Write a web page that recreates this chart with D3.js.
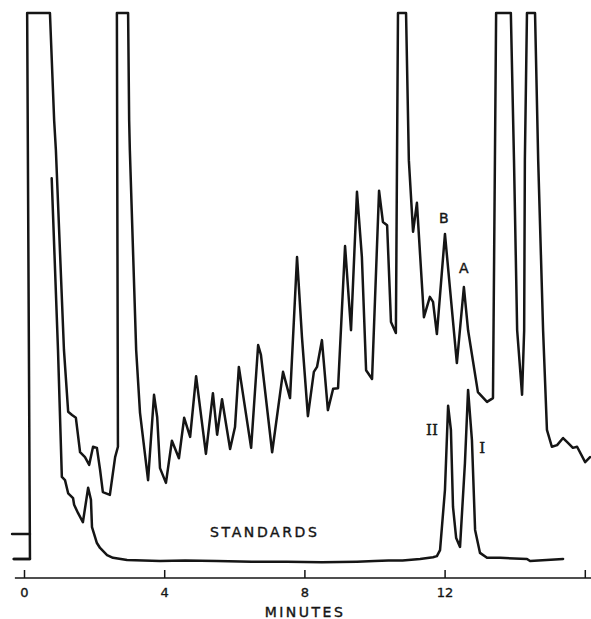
<!DOCTYPE html>
<html>
<head>
<meta charset="utf-8">
<script src="https://cdn.jsdelivr.net/npm/d3@7"></script>
<style>
  body { margin: 0; background: #fff; }
  svg { display: block; }
  .trace { fill: none; stroke: #151515; stroke-width: 2.5; stroke-linejoin: round; stroke-linecap: round; }
  .axis text { font-family: "DejaVu Sans", sans-serif; font-size: 13px; fill: #151515; stroke: #151515; stroke-width: 0.35; }
  .axis line { stroke: #151515; stroke-width: 1.5; }
  .lbl { font-family: "DejaVu Sans", sans-serif; fill: #151515; stroke: #151515; stroke-width: 0.4; }
  .roman { font-family: "DejaVu Serif", serif; fill: #151515; stroke: #151515; stroke-width: 0.4; }
</style>
</head>
<body>
<svg width="591" height="619"></svg>
<script>
// sample trace: time (min), detector response (0-100, 100 = pen limit)
var sampleTime = [-0.29, 0.17, 0.09, 0.74, 0.86, 0.91, 1.14, 1.26, 1.37, 1.48, 1.60, 1.74, 1.86, 1.97, 2.08, 2.17, 2.25, 2.45, 2.60, 2.68,
  2.65, 2.97, 3.00, 3.02, 3.20, 3.31, 3.54, 3.71, 3.80, 3.88, 4.05, 4.22, 4.42, 4.57, 4.74, 4.91, 5.19, 5.39, 5.51, 5.65,
  5.88, 6.02, 6.13, 6.48, 6.68, 6.76, 7.08, 7.39, 7.59, 7.79, 7.93, 8.10, 8.27, 8.36, 8.50, 8.67, 8.82, 8.96, 9.16, 9.33,
  9.50, 9.64, 9.76, 9.93, 10.13, 10.24, 10.36, 10.47, 10.61, 10.67, 10.90, 10.98, 11.10, 11.21, 11.41, 11.58, 11.67, 11.78, 12.01, 12.35,
  12.55, 12.67, 12.95, 13.21, 13.38, 13.47, 13.89, 13.98, 14.07, 14.21, 14.27, 14.29, 14.35, 14.58, 14.67, 14.81, 14.92, 15.06, 15.21, 15.38,
  15.52, 15.66, 15.78, 16.01, 16.15];
var sampleResp = [0.2, 0.2, 100, 100, 80.4, 74.9, 38.4, 27.1, 26.5, 26.0, 19.7, 18.8, 17.4, 20.7, 20.5, 16.5, 12.4, 11.9, 18.8, 20.7,
  100, 100, 80.4, 74.9, 38.4, 26.9, 14.6, 30.2, 26.1, 16.8, 14.1, 21.8, 18.6, 26.0, 22.5, 33.6, 19.4, 30.5, 22.9, 29.4,
  20.3, 24.3, 35.3, 20.5, 39.3, 37.5, 19.7, 34.4, 29.6, 55.4, 40.8, 26.3, 34.4, 35.3, 40.2, 27.4, 31.3, 31.4, 57.4, 42.0,
  67.3, 55.4, 34.7, 33.1, 67.5, 61.8, 61.2, 43.5, 41.5, 100, 100, 73.1, 60.0, 65.3, 44.4, 48.1, 47.2, 41.3, 59.6, 36.0,
  49.9, 42.0, 30.7, 28.9, 29.6, 100, 100, 73.1, 42.0, 30.2, 42.0, 73.1, 100, 100, 73.1, 42.0, 23.8, 20.7, 21.0, 22.3,
  21.4, 20.5, 20.7, 17.9, 18.8];

// standards trace
var stdTime = [0.79, 0.97, 1.08, 1.17, 1.26, 1.40, 1.43, 1.54, 1.68, 1.83, 1.91, 1.94, 2.08, 2.17, 2.37, 2.54, 2.94, 3.88, 4.6, 5.5,
  6.5, 7.5, 8.5, 9.5, 10.0, 10.4, 10.8, 11.3, 11.67, 11.78, 11.87, 12.01, 12.10, 12.18, 12.24, 12.33, 12.44, 12.58, 12.67, 12.78,
  12.87, 13.01, 13.21, 13.58, 14.35, 14.44, 15.38];
var stdResp = [69.8, 38.4, 15.2, 14.6, 12.2, 11.3, 10.1, 8.6, 6.9, 13.2, 11.0, 6.0, 3.1, 2.2, 0.9, 0.4, 0, -0.2, -0.1, -0.2,
  -0.3, -0.3, -0.4, -0.3, -0.2, -0.1, -0.1, 0.2, 0.5, 0.7, 1.8, 12.8, 28.2, 23.8, 9.7, 4.0, 2.4, 17.7, 31.1, 21.9,
  5.5, 1.3, 0.4, 0.4, 0.2, -0.2, 0.2];

// zero marks at the left edge
var zeroLevels = [4.75, 0.18];
var zeroStart = [-0.34, -0.29];
var zeroEnd = [0.17, 0.17];

var tickValues = [0, 4, 8, 12, 16];
var tickLabels = ["0", "4", "8", "12", ""];

var peakNames = ["B", "A"];
var peakTime = [11.98, 12.55];
var peakResp = [62.5, 53.4];

var stdNames = ["II", "I"];
var stdNameTime = [11.64, 13.07];
var stdNameResp = [23.8, 20.5];

var svg = d3.select("svg");
svg.append("rect").attr("width", 591).attr("height", 619).attr("fill", "#fff");

var x = d3.scaleLinear().domain([0, 16]).range([24, 584.8]);
var y = d3.scaleLinear().domain([0, 100]).range([560, 13]);

var line = d3.line()
  .x(function(d) { return x(d[0]); })
  .y(function(d) { return y(d[1]); });

svg.append("path")
  .attr("class", "trace")
  .attr("d", line(d3.zip(sampleTime, sampleResp)));

svg.append("path")
  .attr("class", "trace")
  .attr("d", line(d3.zip(stdTime, stdResp)));

svg.selectAll(".zero")
  .data(zeroLevels)
  .enter()
  .append("line")
    .attr("class", "zero trace")
    .attr("x1", function(d, i) { return x(zeroStart[i]); })
    .attr("x2", function(d, i) { return x(zeroEnd[i]); })
    .attr("y1", function(d) { return y(d); })
    .attr("y2", function(d) { return y(d); });

// time axis, ticks pointing up
var axis = svg.append("g")
  .attr("class", "axis")
  .attr("transform", "translate(0,578)")
  .call(d3.axisBottom(x)
    .tickValues(tickValues)
    .tickFormat(function(d, i) { return tickLabels[i]; })
    .tickSizeInner(-8)
    .tickSizeOuter(0)
    .tickPadding(10));
axis.select(".domain").remove();
axis.append("line")
  .attr("x1", x(-0.26)).attr("x2", 591)
  .attr("y1", 0).attr("y2", 0);

svg.append("text")
  .attr("class", "lbl")
  .attr("x", 305).attr("y", 617)
  .attr("text-anchor", "middle")
  .style("font-size", "14px")
  .style("letter-spacing", "2.5px")
  .text("MINUTES");

svg.append("text")
  .attr("class", "lbl")
  .attr("x", x(5.31)).attr("y", y(5.1))
  .attr("dominant-baseline", "central")
  .style("font-size", "14px")
  .style("letter-spacing", "2.6px")
  .text("STANDARDS");

svg.selectAll(".peak")
  .data(peakNames)
  .enter()
  .append("text")
    .attr("class", "peak lbl")
    .attr("x", function(d, i) { return x(peakTime[i]); })
    .attr("y", function(d, i) { return y(peakResp[i]); })
    .attr("text-anchor", "middle")
    .attr("dominant-baseline", "central")
    .style("font-size", "14px")
    .text(function(d) { return d; });

svg.selectAll(".std")
  .data(stdNames)
  .enter()
  .append("text")
    .attr("class", "std roman")
    .attr("x", function(d, i) { return x(stdNameTime[i]); })
    .attr("y", function(d, i) { return y(stdNameResp[i]); })
    .attr("text-anchor", "middle")
    .attr("dominant-baseline", "central")
    .style("font-size", "15px")
    .text(function(d) { return d; });
</script>
</body>
</html>
